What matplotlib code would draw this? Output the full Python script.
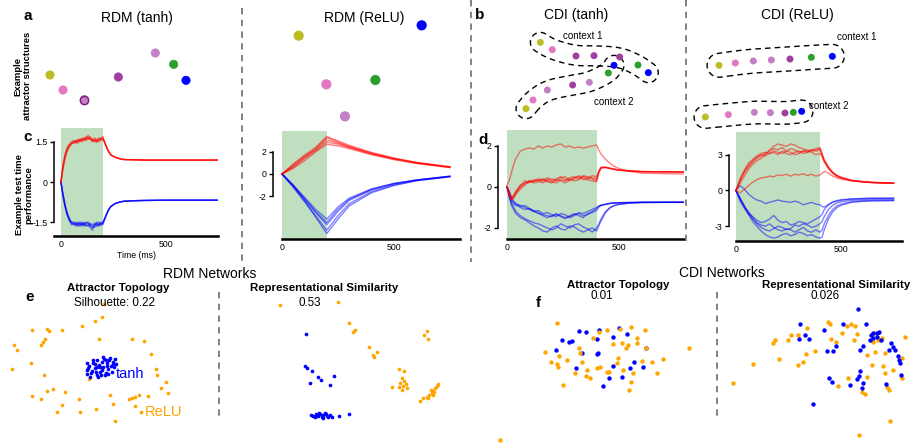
import numpy as np
import matplotlib
matplotlib.use("Agg")
import matplotlib.pyplot as plt
from matplotlib.lines import Line2D

plt.rcParams['font.family'] = ['Liberation Sans', 'DejaVu Sans']
plt.rcParams['axes.unicode_minus'] = False

W, H = 913, 444
GREEN = '#c0dfc0'
RED = '#ff0000'
BLUE = '#0000ff'
ORANGE = '#ffa500'

# ---- attractor dot colours (7 conditions)
YEL, PINK, LPUR, DPUR, GRN = '#bcbd22', '#e377c2', '#c280c4', '#a23ea2', '#2ca02c'

# panel a: example attractor structures (embedding coords)
a_tanh_x = [150, 189, 253, 355, 466, 521, 558]
a_tanh_y = [225, 270, 299, 231, 159, 193, 241]
a_tanh_c = [YEL, PINK, LPUR, DPUR, LPUR, GRN, BLUE]
a_relu_x = [896, 1265, 979, 1126, 1035]
a_relu_y = [107, 76, 253, 240, 349]
a_relu_c = [YEL, BLUE, PINK, GRN, LPUR]

# panel b: CDI attractors, two contexts
b_tanh1_x = [241, 277, 348, 402, 479, 534, 565]
b_tanh1_y = [127, 149, 168, 167, 171, 195, 218]
b_tanh1_c = [YEL, PINK, DPUR, DPUR, DPUR, GRN, BLUE]
b_tanh2_x = [198, 219, 262, 338, 388, 445, 462]
b_tanh2_y = [326, 300, 270, 255, 247, 219, 196]
b_tanh2_c = [YEL, PINK, LPUR, DPUR, LPUR, GRN, BLUE]
b_relu1_x = [777, 826, 880, 934, 990, 1054, 1117]
b_relu1_y = [196, 189, 183, 180, 177, 172, 169]
b_relu1_c = [YEL, PINK, LPUR, LPUR, DPUR, GRN, BLUE]
b_relu2_x = [736, 805, 883, 931, 975, 1000, 1025]
b_relu2_y = [351, 344, 337, 338, 339, 337, 334]
b_relu2_c = [YEL, PINK, LPUR, LPUR, DPUR, GRN, BLUE]

# panel c, RDM tanh
c_tanh_t = [0, 10, 20, 30, 40, 50, 60, 70, 80, 90, 100, 110, 120, 130, 140, 150, 160, 170, 180, 190, 200,
            210, 220, 230, 240, 260, 280, 300, 350, 400, 500, 600, 750]
c_tanh_red = [
    [0, 0.65, 1.05, 1.3, 1.4, 1.45, 1.5, 1.55, 1.5, 1.6, 1.55, 1.6, 1.7, 1.65, 1.6, 1.55, 1.6, 1.5, 1.55, 1.6, 1.65],
    [0, 0.55, 0.95, 1.2, 1.35, 1.45, 1.45, 1.5, 1.6, 1.55, 1.6, 1.65, 1.6, 1.75, 1.6, 1.6, 1.5, 1.6, 1.6, 1.55, 1.6],
    [0, 0.6, 1.0, 1.25, 1.4, 1.5, 1.55, 1.45, 1.55, 1.5, 1.65, 1.55, 1.65, 1.6, 1.7, 1.55, 1.55, 1.5, 1.65, 1.6, 1.7],
    [0, 0.5, 0.9, 1.15, 1.3, 1.4, 1.5, 1.55, 1.45, 1.6, 1.5, 1.6, 1.55, 1.65, 1.6, 1.5, 1.65, 1.55, 1.5, 1.65, 1.6],
]
c_tanh_red_after = [1.45, 1.25, 1.1, 1.0, 0.92, 0.87, 0.84, 0.83, 0.82, 0.82, 0.82, 0.82]
c_tanh_blue = [
    [0, -0.5, -0.9, -1.2, -1.4, -1.55, -1.6, -1.55, -1.6, -1.5, -1.6, -1.55, -1.65, -1.6, -1.7, -1.8, -1.6, -1.55, -1.6, -1.55, -1.5],
    [0, -0.45, -0.85, -1.15, -1.35, -1.5, -1.55, -1.6, -1.5, -1.65, -1.55, -1.6, -1.5, -1.55, -1.6, -1.65, -1.7, -1.6, -1.5, -1.6, -1.55],
    [0, -0.55, -0.95, -1.25, -1.45, -1.5, -1.5, -1.65, -1.55, -1.55, -1.65, -1.5, -1.6, -1.65, -1.55, -1.6, -1.55, -1.65, -1.6, -1.5, -1.6],
    [0, -0.5, -0.9, -1.2, -1.4, -1.6, -1.55, -1.5, -1.65, -1.6, -1.5, -1.65, -1.55, -1.5, -1.65, -1.7, -1.6, -1.5, -1.65, -1.6, -1.5],
]
c_tanh_blue_after = [-1.35, -1.15, -1.0, -0.9, -0.8, -0.75, -0.72, -0.7, -0.69, -0.68, -0.68, -0.68]

# panel c, RDM ReLU
c_relu_t = [0, 50, 100, 150, 200, 250, 300, 400, 500, 600, 750]
c_relu_red = [
    [0, 0.7, 1.5, 2.3, 3.3, 2.9, 2.5, 1.9, 1.4, 1.05, 0.65],
    [0, 0.8, 1.6, 2.2, 3.1, 2.8, 2.45, 1.85, 1.4, 1.0, 0.62],
    [0, 0.5, 1.2, 2.0, 2.7, 2.55, 2.3, 1.75, 1.3, 0.95, 0.58],
    [0, 0.6, 1.4, 2.1, 2.9, 2.7, 2.4, 1.8, 1.35, 1.0, 0.6],
    [0, 0.9, 1.7, 2.4, 3.4, 3.0, 2.6, 1.95, 1.45, 1.05, 0.65],
]
c_relu_blue = [
    [0, -1.0, -2.1, -3.2, -4.1, -3.0, -2.2, -1.35, -0.85, -0.55, -0.2],
    [0, -1.1, -2.3, -3.5, -4.6, -3.4, -2.4, -1.45, -0.9, -0.55, -0.22],
    [0, -1.2, -2.5, -3.8, -5.1, -3.8, -2.7, -1.6, -1.0, -0.6, -0.25],
    [0, -1.1, -2.4, -3.9, -5.4, -4.1, -2.9, -1.7, -1.05, -0.62, -0.25],
    [0, -1.0, -2.2, -3.4, -4.4, -3.2, -2.3, -1.4, -0.88, -0.55, -0.2],
]

# panel d, CDI tanh
d_tanh_t = [0, 10, 20, 30, 40, 60, 80, 100, 120, 140, 160, 180, 200, 220, 240, 260, 280, 300, 320, 340, 360, 380, 400,
            410, 420, 440, 460, 480, 500, 550, 600, 700, 800]
d_tanh_red = [
    [0.1, 0.3, 0.7, 1.1, 1.4, 1.75, 1.85, 1.9, 1.85, 2.0, 1.9, 2.0, 1.95, 2.05, 2.1, 1.95, 2.0, 1.9, 1.95, 1.9, 1.95, 2.0, 2.05,
     1.8, 1.6, 1.35, 1.15, 1.0, 0.9, 0.75, 0.68, 0.65, 0.63],
    [0, -0.3, -0.55, -0.4, -0.2, 0.1, 0.2, 0.3, 0.25, 0.35, 0.3, 0.45, 0.3, 0.4, 0.5, 0.35, 0.45, 0.5, 0.4, 0.55, 0.5, 0.45, 0.4,
     0.75, 0.95, 0.95, 0.9, 0.85, 0.82, 0.78, 0.75, 0.74, 0.73],
    [0, -0.35, -0.6, -0.5, -0.3, 0.0, 0.15, 0.25, 0.35, 0.3, 0.2, 0.35, 0.4, 0.3, 0.45, 0.5, 0.3, 0.4, 0.55, 0.45, 0.35, 0.3, 0.25,
     0.7, 0.92, 0.97, 0.92, 0.87, 0.83, 0.78, 0.75, 0.74, 0.73],
    [0, -0.25, -0.5, -0.45, -0.25, 0.05, 0.3, 0.2, 0.3, 0.4, 0.35, 0.25, 0.2, 0.35, 0.3, 0.2, 0.35, 0.45, 0.5, 0.35, 0.4, 0.55, 0.5,
     0.8, 0.97, 0.96, 0.9, 0.86, 0.82, 0.78, 0.75, 0.74, 0.73],
    [0, -0.4, -0.65, -0.55, -0.35, -0.1, 0.1, 0.3, 0.2, 0.25, 0.4, 0.3, 0.25, 0.2, 0.35, 0.3, 0.4, 0.3, 0.35, 0.5, 0.45, 0.4, 0.3,
     0.72, 0.93, 0.95, 0.9, 0.86, 0.82, 0.78, 0.75, 0.74, 0.73],
]
d_tanh_blue = [
    [0, -0.3, -0.6, -0.75, -0.85, -0.9, -1.0, -1.1, -1.2, -1.3, -1.35, -1.4, -1.45, -1.35, -1.4, -1.5, -1.45, -1.35, -1.3, -1.4, -1.35, -1.2, -1.05,
     -0.95, -0.9, -0.85, -0.8, -0.78, -0.77, -0.76, -0.75, -0.75, -0.75],
    [0, -0.4, -0.7, -0.85, -0.9, -1.0, -1.1, -1.05, -1.15, -1.25, -1.4, -1.5, -1.4, -1.3, -1.45, -1.55, -1.4, -1.3, -1.4, -1.5, -1.3, -1.25, -1.15,
     -0.98, -0.9, -0.85, -0.8, -0.78, -0.77, -0.76, -0.75, -0.75, -0.75],
    [0, -0.2, -0.5, -0.7, -0.8, -0.95, -0.9, -1.05, -1.2, -1.15, -1.3, -1.25, -1.35, -1.45, -1.3, -1.35, -1.5, -1.4, -1.25, -1.3, -1.2, -1.1, -1.0,
     -0.92, -0.88, -0.84, -0.8, -0.78, -0.77, -0.76, -0.75, -0.75, -0.75],
    [0, -0.4, -0.8, -1.0, -1.2, -1.4, -1.55, -1.65, -1.75, -1.8, -1.9, -2.0, -2.1, -2.0, -1.8, -1.9, -2.0, -1.85, -1.8, -1.95, -2.05, -2.2, -2.0,
     -1.8, -1.55, -1.2, -1.0, -0.9, -0.85, -0.78, -0.76, -0.75, -0.75],
    [0, -0.5, -0.9, -1.1, -1.3, -1.5, -1.6, -1.75, -1.9, -2.0, -2.15, -2.2, -2.0, -1.9, -2.05, -2.1, -1.9, -1.95, -2.1, -2.2, -2.1, -2.0, -2.15,
     -1.9, -1.65, -1.25, -1.02, -0.9, -0.85, -0.78, -0.76, -0.75, -0.75],
]

# panel d, CDI ReLU
d_relu_t = [0, 20, 40, 60, 80, 100, 120, 140, 160, 180, 200, 220, 240, 260, 280, 300, 320, 340, 360, 380, 400,
            410, 420, 440, 460, 480, 500, 550, 600, 650, 750]
d_relu_red = [
    [0, 0.8, 1.5, 2.0, 2.4, 2.7, 2.9, 3.1, 3.3, 3.5, 3.4, 3.6, 3.3, 3.5, 3.4, 3.2, 3.3, 3.4, 3.3, 3.4, 3.5,
     3.0, 2.5, 1.9, 1.5, 1.25, 1.1, 0.85, 0.75, 0.68, 0.62],
    [0, 1.0, 1.7, 2.3, 2.6, 2.9, 3.1, 3.2, 3.1, 3.3, 3.2, 3.1, 3.3, 3.2, 3.0, 3.1, 3.3, 3.2, 3.4, 3.3, 3.4,
     2.9, 2.45, 1.85, 1.45, 1.2, 1.05, 0.82, 0.72, 0.66, 0.6],
    [0, 0.6, 1.2, 1.8, 2.2, 2.5, 2.7, 3.0, 3.4, 3.7, 3.9, 3.8, 3.7, 3.9, 3.8, 3.6, 3.5, 3.3, 3.2, 3.0, 3.1,
     2.8, 2.4, 1.85, 1.45, 1.2, 1.05, 0.82, 0.72, 0.66, 0.6],
    [0, 0.9, 1.6, 2.1, 2.5, 2.8, 3.0, 2.9, 3.1, 3.2, 3.0, 3.3, 3.1, 3.0, 3.2, 3.3, 3.1, 3.2, 3.4, 3.5, 3.6,
     3.1, 2.6, 2.0, 1.55, 1.28, 1.1, 0.85, 0.74, 0.67, 0.61],
    [0, -0.2, 0.1, 0.4, 0.7, 0.9, 1.05, 1.1, 1.2, 1.15, 1.3, 1.25, 1.35, 1.2, 1.35, 1.3, 1.4, 1.25, 1.35, 1.2, 1.3,
     1.45, 1.6, 1.45, 1.2, 1.05, 0.95, 0.8, 0.72, 0.66, 0.6],
]
d_relu_blue = [
    [0, 0.4, 0.1, -0.3, -0.6, -0.8, -0.9, -1.1, -1.0, -0.9, -0.8, -0.9, -0.95, -1.0, -0.9, -1.0, -1.2, -1.1, -1.0, -1.15, -1.2,
     -1.35, -1.4, -1.2, -1.0, -0.9, -0.82, -0.72, -0.68, -0.66, -0.65],
    [0, -0.8, -1.4, -1.9, -2.2, -2.5, -2.7, -2.6, -2.4, -2.1, -2.5, -2.7, -2.6, -2.9, -2.8, -2.6, -2.7, -2.8, -2.6, -2.4, -2.2,
     -2.0, -1.6, -1.2, -0.95, -0.85, -0.78, -0.72, -0.68, -0.66, -0.65],
    [0, -0.7, -1.3, -1.8, -2.3, -2.8, -3.1, -3.3, -3.4, -3.2, -3.0, -3.1, -3.3, -3.2, -2.9, -3.0, -2.8, -2.9, -3.1, -3.0, -2.8,
     -2.6, -2.2, -1.6, -1.25, -1.05, -0.95, -0.83, -0.78, -0.76, -0.75],
    [0, -0.6, -1.3, -2.0, -2.6, -3.0, -3.4, -3.7, -3.9, -4.0, -3.9, -3.7, -3.6, -3.8, -3.7, -3.5, -3.6, -3.8, -3.7, -3.9, -4.0,
     -3.9, -3.3, -2.4, -1.8, -1.45, -1.25, -1.0, -0.92, -0.88, -0.86],
    [0, -0.9, -1.5, -2.0, -2.4, -2.7, -2.9, -3.0, -2.8, -3.1, -3.3, -3.4, -3.2, -3.3, -3.5, -3.3, -3.1, -3.4, -3.5, -3.3, -3.5,
     -3.3, -2.8, -2.1, -1.6, -1.3, -1.15, -0.95, -0.88, -0.85, -0.83],
]

# panel e: RDM networks embeddings
e_topo_relu = [(43, 256), (52, 270), (35, 327), (96, 209), (140, 208), (147, 213), (134, 238), (128, 245), (124, 254),
               (186, 209), (246, 198), (286, 184), (306, 170), (298, 236), (396, 236), (433, 244), (452, 282), (468, 327),
               (470, 345), (497, 366), (483, 384), (505, 398), (443, 408), (416, 405), (405, 410), (396, 415),
               (387, 418), (404, 438), (424, 456), (338, 432), (330, 406), (345, 482), (289, 446), (241, 455), (237, 416),
               (187, 434), (170, 455), (195, 397), (160, 386), (140, 394), (124, 417), (96, 408), (133, 346), (93, 310),
               (313, 132), (266, 358)]
e_topo_tanh = [(262, 330), (268, 318), (272, 340), (280, 310), (285, 325), (290, 345), (292, 300), (298, 315), (300, 335),
               (305, 305), (310, 322), (312, 298), (318, 340), (320, 310), (325, 328), (328, 300), (332, 318), (338, 305),
               (342, 322), (345, 298), (348, 312), (335, 335), (315, 345), (295, 350), (278, 300), (270, 352), (288, 335),
               (300, 322), (322, 318), (330, 295), (308, 292), (285, 312), (265, 325), (275, 333), (318, 300), (340, 312),
               (302, 345), (260, 342), (290, 320), (325, 342), (262, 310), (305, 330)]
e_rsa_relu = [(841, 135), (1014, 125), (1046, 189), (1066, 210), (1060, 215), (1108, 260), (1131, 275), (1120, 285),
              (1122, 292), (1282, 213), (1272, 225), (1283, 236), (1196, 326), (1211, 333), (1206, 355), (1212, 362),
              (1200, 370), (1210, 378), (1218, 372), (1196, 382), (1205, 390), (1222, 384), (1176, 380), (1260, 422),
              (1270, 415), (1280, 410), (1288, 405), (1295, 400), (1300, 392), (1305, 385), (1310, 378), (1313, 372),
              (1298, 405), (1285, 415), (1302, 396), (1292, 390)]
e_rsa_tanh = [(918, 223), (916, 318), (922, 325), (935, 332), (955, 352), (962, 360), (1001, 348), (930, 368), (990, 376),
              (1017, 467), (1046, 463), (932, 465), (940, 467), (948, 463), (955, 468), (960, 462), (965, 470), (970, 465),
              (975, 460), (980, 467), (985, 472), (990, 465), (995, 470), (945, 472), (958, 458), (968, 474), (950, 466),
              (978, 463)]

# panel f: CDI networks embeddings
f_topo_tanh = [(358, 213), (377, 215), (417, 210), (478, 205), (307, 240), (327, 245), (337, 242), (410, 236), (289, 270),
               (365, 278), (410, 282), (414, 280), (460, 232), (500, 222), (558, 265), (522, 305), (550, 320), (510, 323),
               (458, 317), (348, 325), (485, 350), (448, 355), (428, 377)]
f_topo_relu = [(290, 189), (256, 275), (274, 305), (292, 312), (293, 322), (298, 287), (320, 300), (356, 265), (360, 280),
               (365, 305), (345, 338), (381, 330), (378, 348), (390, 355), (412, 325), (420, 320), (400, 233), (418, 215),
               (440, 209), (458, 252), (486, 250), (497, 263), (504, 255), (514, 201), (532, 235), (530, 250), (555, 210),
               (547, 302), (575, 306), (609, 298), (590, 338), (518, 340), (512, 365), (506, 390), (490, 330), (474, 295),
               (470, 308), (448, 337), (310, 376), (440, 335), (686, 264), (120, 540), (481, 206), (558, 265)]
f_rsa_relu = [(820, 368), (880, 312), (958, 296), (940, 248), (945, 240), (985, 241), (993, 224), (1015, 224), (1040, 204),
              (1015, 315), (1030, 305), (1037, 282), (1065, 272), (1105, 187), (1110, 192), (1160, 198), (1172, 193),
              (1185, 198), (1145, 218), (1112, 237), (1127, 245), (1190, 222), (1183, 240), (1245, 220), (1250, 230),
              (1240, 245), (1255, 240), (1265, 235), (1245, 275), (1222, 285), (1275, 278), (1335, 232), (1325, 295),
              (1235, 315), (1270, 318), (1300, 330), (1275, 340), (1325, 355), (1220, 352), (1163, 353), (1135, 378),
              (1205, 395), (1215, 403), (1290, 482), (1198, 525), (1280, 380), (1286, 390)]
f_rsa_tanh = [(1193, 148), (1020, 193), (1148, 192), (1219, 193), (1093, 210), (1017, 238), (1047, 238), (1034, 225),
              (1238, 218), (1250, 218), (1258, 216), (1233, 225), (1230, 240), (1262, 240), (1252, 232), (1240, 235),
              (1200, 270), (1210, 258), (1127, 258), (1120, 273), (1102, 273), (1293, 250), (1298, 262), (1287, 270),
              (1305, 270), (1313, 288), (1318, 300), (1320, 310), (1200, 332), (1197, 348), (1190, 357), (1107, 353),
              (1115, 365), (1170, 375), (1210, 370), (1207, 385), (1278, 373), (1322, 345), (1060, 433)]


def box(l, t, w, h):
    return [l / W, 1 - (t + h) / H, w / W, h / H]


def ftext(x, y, s, **kw):
    fig.text(x / W, 1 - y / H, s, **kw)


def capsule(xs, ys, r, n=14):
    # closed smooth outline around a chain of points
    p = np.column_stack([xs, ys]).astype(float)
    d = np.gradient(p, axis=0)
    d /= np.linalg.norm(d, axis=1)[:, None]
    nrm = np.column_stack([-d[:, 1], d[:, 0]])
    left, right = p + r * nrm, p - r * nrm
    a1 = np.arctan2(nrm[-1, 1], nrm[-1, 0])
    ang = np.linspace(a1, a1 - np.pi, n)
    cap1 = p[-1] + r * np.column_stack([np.cos(ang), np.sin(ang)])
    a0 = np.arctan2(-nrm[0, 1], -nrm[0, 0])
    ang = np.linspace(a0, a0 - np.pi, n)
    cap0 = p[0] + r * np.column_stack([np.cos(ang), np.sin(ang)])
    loop = np.vstack([left, cap1, right[::-1], cap0])
    for _ in range(3):
        q = np.roll(loop, -1, axis=0)
        a = 0.75 * loop + 0.25 * q
        b = 0.25 * loop + 0.75 * q
        loop = np.stack([a, b], axis=1).reshape(-1, 2)
    loop = np.vstack([loop, loop[:1]])
    return loop[:, 0], loop[:, 1]


fig = plt.figure(figsize=(W / 100, H / 100), dpi=100)

# ---------------- top row: attractor structures
ax = fig.add_axes(box(0, 0, 460, 130))
ax.set_xlim(0, 1380); ax.set_ylim(390, 0); ax.axis('off')
ax.scatter(a_tanh_x, a_tanh_y, s=36, c=a_tanh_c, edgecolors=a_tanh_c, linewidths=0.5, zorder=3)
ax.scatter([a_tanh_x[2]], [a_tanh_y[2]], s=36, facecolors=LPUR, edgecolors='#7a1a7a', linewidths=1.0, zorder=4)
ax.scatter(a_relu_x, a_relu_y, s=40, c=a_relu_c, zorder=3)

ax = fig.add_axes(box(460, 0, 453, 130))
ax.set_xlim(0, 1359); ax.set_ylim(390, 0); ax.axis('off')
for xs, ys, cs, r in [(b_tanh1_x, b_tanh1_y, b_tanh1_c, 30), (b_tanh2_x, b_tanh2_y, b_tanh2_c, 30),
                      (b_relu1_x, b_relu1_y, b_relu1_c, 36), (b_relu2_x, b_relu2_y, b_relu2_c, 34)]:
    ox, oy = capsule(xs, ys, r)
    ax.plot(ox, oy, color='black', lw=1.0, ls=(0, (4, 3)), zorder=2)
    ax.scatter(xs, ys, s=16, c=cs, zorder=3)
ax.text(308, 107, 'context 1', fontsize=7, va='center', ha='left')
ax.text(402, 307, 'context 2', fontsize=7, va='center', ha='left')
ax.text(1130, 112, 'context 1', fontsize=7, va='center', ha='left')
ax.text(1047, 318, 'context 2', fontsize=7, va='center', ha='left')

ftext(137, 18, 'RDM (tanh)', fontsize=10, ha='center', va='center')
ftext(364, 18, 'RDM (ReLU)', fontsize=10, ha='center', va='center')
ftext(576, 15, 'CDI (tanh)', fontsize=10, ha='center', va='center')
ftext(797, 15, 'CDI (ReLU)', fontsize=10, ha='center', va='center')
ftext(28, 16, 'a', fontsize=11, fontweight='bold', ha='center', va='center')
ftext(480, 15, 'b', fontsize=11, fontweight='bold', ha='center', va='center')
ftext(23, 76, 'Example\nattractor structures', fontsize=6.8, fontweight='bold',
      rotation=90, ha='center', va='center', linespacing=1.05)


# ---------------- row c/d: test time performance
def line_panel(bx, t, reds, blues, stim, xlim, ylim, yticks, bottom_lo, red_after=None, blue_after=None):
    ax = fig.add_axes(box(*bx))
    ax.axvspan(0, stim, color=GREEN, lw=0, zorder=0)
    for y in blues:
        yy = np.r_[y, blue_after] if blue_after is not None else y
        ax.plot(t, yy, color=BLUE, alpha=0.5, lw=1.0)
    for y in reds:
        yy = np.r_[y, red_after] if red_after is not None else y
        ax.plot(t, yy, color=RED, alpha=0.5, lw=1.0)
    ax.set_xlim(*xlim); ax.set_ylim(*ylim)
    for s in ['top', 'right']:
        ax.spines[s].set_visible(False)
    ax.spines['left'].set_bounds(min(yticks), max(yticks))
    ax.spines['left'].set_linewidth(1.1)
    ax.spines['bottom'].set_bounds(bottom_lo, xlim[1])
    ax.spines['bottom'].set_linewidth(1.8)
    ax.set_yticks(yticks)
    ax.set_yticklabels([('%g' % v) for v in yticks])
    ax.set_xticks([0, 500])
    ax.tick_params(axis='x', length=0, pad=3, labelsize=6.3)
    ax.tick_params(axis='y', length=3, width=1, pad=1.5, labelsize=6.3)
    return ax


ax = line_panel((54, 128, 164, 108), c_tanh_t, c_tanh_red, c_tanh_blue, 200, (-33, 748), (-2.02, 2.02),
                [-1.5, 0, 1.5], -33, c_tanh_red_after, c_tanh_blue_after)
ax.set_xlabel('Time (ms)', fontsize=6.3, labelpad=1)
line_panel((273, 131, 187, 108), c_relu_t, c_relu_red, c_relu_blue, 200, (-40, 795), (-5.9, 3.9),
           [-2, 0, 2], 0)
line_panel((498, 130, 186, 109), d_tanh_t, d_tanh_red, d_tanh_blue, 400, (-40, 790), (-2.54, 2.78),
           [-2, 0, 2], 0)
line_panel((729, 132, 173, 109), d_relu_t, d_relu_red, d_relu_blue, 400, (-33, 790), (-4.24, 4.9),
           [-3, 0, 3], 0)

ftext(28, 137, 'c', fontsize=11, fontweight='bold', ha='center', va='center')
ftext(483, 140, 'd', fontsize=11, fontweight='bold', ha='center', va='center')
ftext(24, 195, 'Example test time\nperformance', fontsize=6.8, fontweight='bold',
      rotation=90, ha='center', va='center', linespacing=1.05)

# ---------------- bottom row: embeddings
ax = fig.add_axes(box(0, 260, 460, 184))
ax.set_xlim(0, 1380); ax.set_ylim(552, 0); ax.axis('off')
for pts, col in [(e_topo_relu, ORANGE), (e_topo_tanh, BLUE), (e_rsa_relu, ORANGE), (e_rsa_tanh, BLUE)]:
    xy = np.array(pts)
    ax.scatter(xy[:, 0], xy[:, 1], s=7, c=col, lw=0)
ax.plot([657, 657], [95, 470], color='#777777', lw=1.3, ls=(0, (3.5, 3)))
ax.text(348, 342, 'tanh', color=BLUE, fontsize=10.5, va='center', ha='left')
ax.text(433, 456, 'ReLU', color=ORANGE, fontsize=10.5, va='center', ha='left')

ax = fig.add_axes(box(460, 260, 453, 184))
ax.set_xlim(0, 1359); ax.set_ylim(552, 0); ax.axis('off')
for pts, col in [(f_topo_tanh, BLUE), (f_topo_relu, ORANGE), (f_rsa_relu, ORANGE), (f_rsa_tanh, BLUE)]:
    xy = np.array(pts)
    ax.scatter(xy[:, 0], xy[:, 1], s=10, c=col, lw=0)
ax.plot([770, 770], [95, 475], color='#777777', lw=1.3, ls=(0, (3.5, 3)))

ftext(210, 274, 'RDM Networks', fontsize=10, ha='center', va='center')
ftext(722, 273, 'CDI Networks', fontsize=10, ha='center', va='center')
ftext(118, 288, 'Attractor Topology', fontsize=8.2, fontweight='bold', ha='center', va='center')
ftext(114, 303, 'Silhouette: 0.22', fontsize=8.4, ha='center', va='center')
ftext(324, 288, 'Representational Similarity', fontsize=8.2, fontweight='bold', ha='center', va='center')
ftext(310, 303, '0.53', fontsize=8.4, ha='center', va='center')
ftext(618, 285, 'Attractor Topology', fontsize=8.2, fontweight='bold', ha='center', va='center')
ftext(602, 296, '0.01', fontsize=8.4, ha='center', va='center')
ftext(836, 285, 'Representational Similarity', fontsize=8.2, fontweight='bold', ha='center', va='center')
ftext(825, 296, '0.026', fontsize=8.4, ha='center', va='center')
ftext(30, 297, 'e', fontsize=11, fontweight='bold', ha='center', va='center')
ftext(538, 303, 'f', fontsize=11, fontweight='bold', ha='center', va='center')

# long dashed separators through rows a-d
for x, y0, y1 in [(242, 8, 262), (471, 0, 262), (686, 0, 245)]:
    fig.add_artist(Line2D([x / W, x / W], [1 - y0 / H, 1 - y1 / H], color='#777777', lw=1.3,
                          ls=(0, (3.5, 3))))

fig.savefig('out.png', dpi=100)
